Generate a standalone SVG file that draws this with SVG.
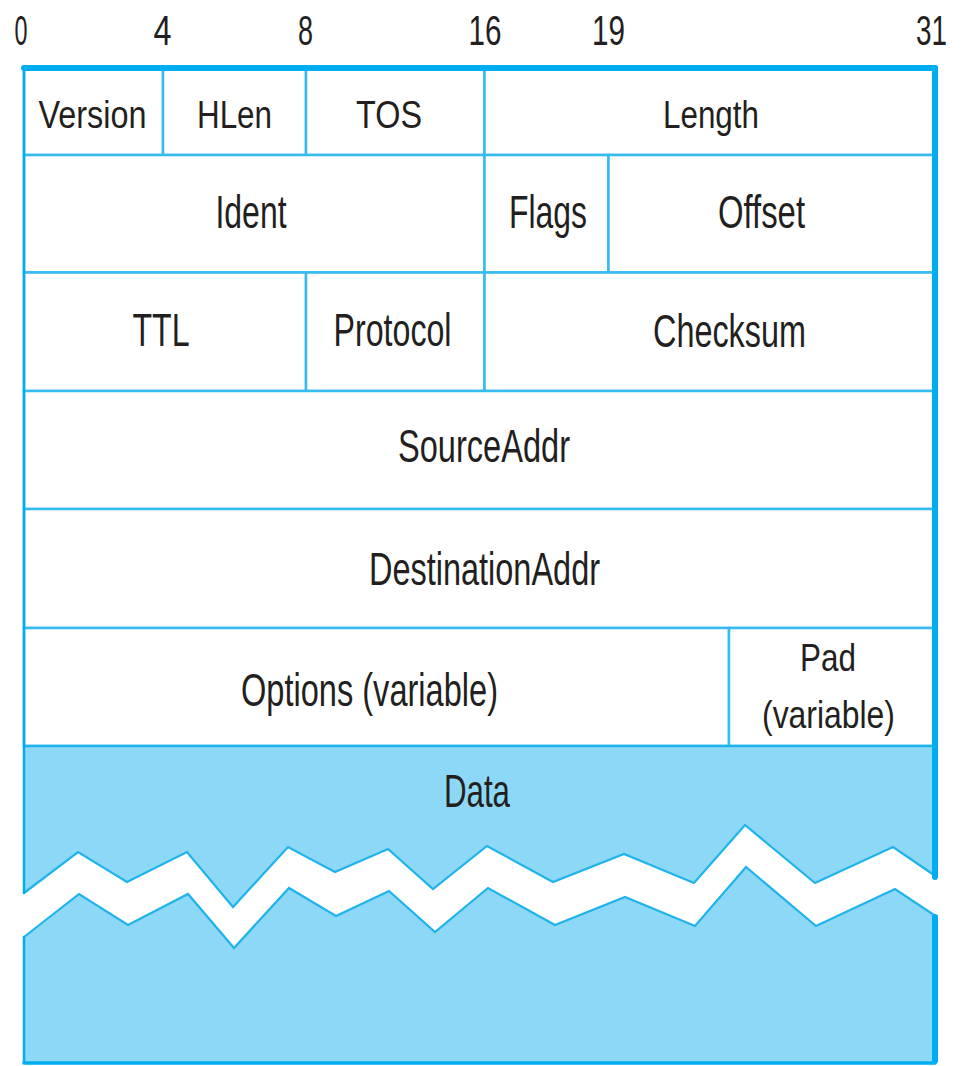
<svg xmlns="http://www.w3.org/2000/svg" width="961" height="1066" viewBox="0 0 961 1066">
  <style>
    .cell { fill: #ffffff; stroke: #35BBEE; stroke-width: 2.5; }
    .lbl { font-family: "Liberation Sans", Arial, sans-serif; fill: #231F20; text-anchor: middle; }
    .r1 { font-size: 39px; }
    .rn { font-size: 46px; }
    .bit { font-family: "Liberation Sans", Arial, sans-serif; fill: #231F20; text-anchor: middle; font-size: 42px; }
    .data { fill: #8ED8F7; stroke: none; }
    .edge { fill: none; stroke: #1FB3EC; stroke-width: 2.2; stroke-linejoin: miter; }
    .frame { fill: none; stroke: #00AEEF; stroke-linecap: round; }
  </style>

  <rect x="0" y="0" width="961" height="1066" fill="#ffffff"/>

  <!-- bit position scale -->
  <g id="bit-scale">
    <text class="bit" x="21" y="45" textLength="13" lengthAdjust="spacingAndGlyphs">0</text>
    <text class="bit" x="162.5" y="45" textLength="18" lengthAdjust="spacingAndGlyphs">4</text>
    <text class="bit" x="305.5" y="45" textLength="15" lengthAdjust="spacingAndGlyphs">8</text>
    <text class="bit" x="485" y="45" textLength="33" lengthAdjust="spacingAndGlyphs">16</text>
    <text class="bit" x="608.5" y="45" textLength="33" lengthAdjust="spacingAndGlyphs">19</text>
    <text class="bit" x="931.5" y="45" textLength="31" lengthAdjust="spacingAndGlyphs">31</text>
  </g>

  <!-- header word 1 -->
  <g id="version">
    <rect class="cell" x="24" y="68" width="139" height="87"/>
    <text class="lbl r1" x="92.5" y="128" textLength="108" lengthAdjust="spacingAndGlyphs">Version</text>
  </g>
  <g id="hlen">
    <rect class="cell" x="163" y="68" width="143" height="87"/>
    <text class="lbl r1" x="234.5" y="128" textLength="75" lengthAdjust="spacingAndGlyphs">HLen</text>
  </g>
  <g id="tos">
    <rect class="cell" x="306" y="68" width="178.5" height="87"/>
    <text class="lbl r1" x="389" y="128" textLength="66" lengthAdjust="spacingAndGlyphs">TOS</text>
  </g>
  <g id="length">
    <rect class="cell" x="484.5" y="68" width="450.5" height="87"/>
    <text class="lbl r1" x="711" y="128" textLength="96" lengthAdjust="spacingAndGlyphs">Length</text>
  </g>

  <!-- header word 2 -->
  <g id="ident">
    <rect class="cell" x="24" y="155" width="460.5" height="117.5"/>
    <text class="lbl rn" x="251" y="228" textLength="71" lengthAdjust="spacingAndGlyphs">Ident</text>
  </g>
  <g id="flags">
    <rect class="cell" x="484.5" y="155" width="124" height="117.5"/>
    <text class="lbl rn" x="548" y="228" textLength="78" lengthAdjust="spacingAndGlyphs">Flags</text>
  </g>
  <g id="offset">
    <rect class="cell" x="608.5" y="155" width="326.5" height="117.5"/>
    <text class="lbl rn" x="761.5" y="228" textLength="87" lengthAdjust="spacingAndGlyphs">Offset</text>
  </g>

  <!-- header word 3 -->
  <g id="ttl">
    <rect class="cell" x="24" y="272.5" width="282" height="118.5"/>
    <text class="lbl rn" x="161" y="346" textLength="57" lengthAdjust="spacingAndGlyphs">TTL</text>
  </g>
  <g id="protocol">
    <rect class="cell" x="306" y="272.5" width="178.5" height="118.5"/>
    <text class="lbl rn" x="392.5" y="346" textLength="118" lengthAdjust="spacingAndGlyphs">Protocol</text>
  </g>
  <g id="checksum">
    <rect class="cell" x="484.5" y="272.5" width="450.5" height="118.5"/>
    <text class="lbl rn" x="729.5" y="347" textLength="153" lengthAdjust="spacingAndGlyphs">Checksum</text>
  </g>

  <!-- addresses -->
  <g id="source-addr">
    <rect class="cell" x="24" y="391" width="911" height="118"/>
    <text class="lbl rn" x="484" y="462" textLength="172" lengthAdjust="spacingAndGlyphs">SourceAddr</text>
  </g>
  <g id="destination-addr">
    <rect class="cell" x="24" y="509" width="911" height="119"/>
    <text class="lbl rn" x="484.5" y="585" textLength="231" lengthAdjust="spacingAndGlyphs">DestinationAddr</text>
  </g>

  <!-- options and padding -->
  <g id="options">
    <rect class="cell" x="24" y="628" width="705" height="118"/>
    <text class="lbl rn" x="369.5" y="706" textLength="257" lengthAdjust="spacingAndGlyphs">Options (variable)</text>
  </g>
  <g id="pad">
    <rect class="cell" x="729" y="628" width="206" height="118"/>
    <text class="lbl r1" x="828" y="671" textLength="56" lengthAdjust="spacingAndGlyphs">Pad</text>
    <text class="lbl r1" x="828.5" y="728" textLength="133" lengthAdjust="spacingAndGlyphs">(variable)</text>
  </g>

  <!-- payload, broken by a torn band -->
  <g id="data">
    <polygon class="data" points="24,746 935,746 935,877 893,847 815,883 745,825 694,883 624,854 553,882 487,846 433,889 388,849 335,872 288,847 233,907 187,852 127,882 78,852 24,893"/>
    <polygon class="data" points="24,937 79,894 128,925 188,894 234,948 289,888 336,916 389,891 435,932 488,888 555,925 625,897 695,926 746,867 816,926 895,889 935,917 935,1063 24,1063"/>
    <line x1="24" y1="746" x2="935" y2="746" stroke="#1FB3EC" stroke-width="2.5"/>
    <polyline class="edge" points="24,893 78,852 127,882 187,852 233,907 288,847 335,872 388,849 433,889 487,846 553,882 624,854 694,883 745,825 815,883 893,847 937,877"/>
    <polyline class="edge" points="24,937 79,894 128,925 188,894 234,948 289,888 336,916 389,891 435,932 488,888 555,925 625,897 695,926 746,867 816,926 895,889 937,917"/>
    <text class="lbl rn" x="477" y="807" textLength="66" lengthAdjust="spacingAndGlyphs">Data</text>
  </g>

  <!-- outer frame -->
  <g id="frame">
    <line class="frame" x1="24" y1="68" x2="935" y2="68" stroke-width="6"/>
    <line class="frame" x1="935" y1="68" x2="935" y2="877" stroke-width="6"/>
    <line class="frame" x1="935" y1="917" x2="935" y2="1061" stroke-width="6"/>
    <line class="frame" x1="24" y1="68" x2="24" y2="893" stroke-width="2.5"/>
    <line class="frame" x1="24" y1="937" x2="24" y2="1063" stroke-width="2.5"/>
    <line class="frame" x1="24" y1="1063" x2="935" y2="1063" stroke-width="3.5"/>
  </g>
</svg>
